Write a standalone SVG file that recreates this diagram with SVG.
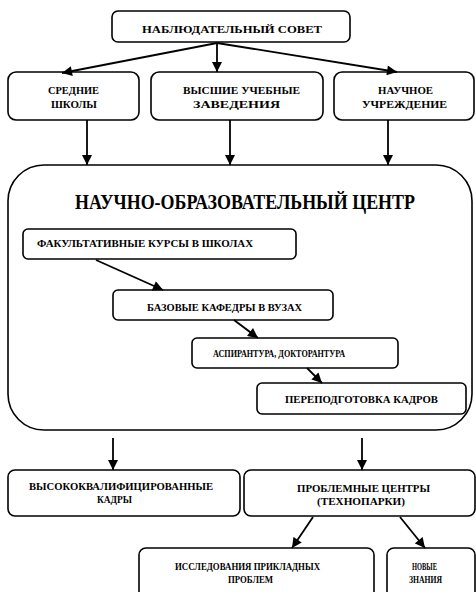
<svg xmlns="http://www.w3.org/2000/svg" width="476" height="592" viewBox="0 0 476 592">
<style>
.b{fill:#fff;stroke:#000;stroke-width:1.6}
.t{font-family:"Liberation Serif","Times New Roman",serif;font-weight:bold;font-size:10px;fill:#000}
.c{stroke:#000;stroke-width:1.8;fill:none;marker-end:url(#ah)}
</style>
<defs>
<marker id="ah" viewBox="0 0 10 10" refX="10" refY="5" markerUnits="userSpaceOnUse" markerWidth="11" markerHeight="10" orient="auto">
<path d="M0,0 L10,5 L0,10 z" fill="#000"/>
</marker>
</defs>
<rect width="476" height="592" fill="#fff"/>
<g id="council">
<rect class="b" x="112" y="11" width="238" height="31" rx="6"/>
<text class="t" x="142" y="33" textLength="180" lengthAdjust="spacingAndGlyphs">НАБЛЮДАТЕЛЬНЫЙ СОВЕТ</text>
</g>
<g id="schools">
<rect class="b" x="8" y="72" width="131" height="48" rx="8"/>
<text class="t" x="48" y="94" textLength="51" lengthAdjust="spacingAndGlyphs">СРЕДНИЕ</text>
<text class="t" x="51" y="108" textLength="46" lengthAdjust="spacingAndGlyphs">ШКОЛЫ</text>
</g>
<g id="universities">
<rect class="b" x="151" y="72" width="172" height="48" rx="8"/>
<text class="t" x="183" y="94" textLength="117" lengthAdjust="spacingAndGlyphs">ВЫСШИЕ УЧЕБНЫЕ</text>
<text class="t" x="193" y="108" textLength="87" lengthAdjust="spacingAndGlyphs">ЗАВЕДЕНИЯ</text>
</g>
<g id="institution">
<rect class="b" x="334" y="72" width="140" height="48" rx="8"/>
<text class="t" x="378" y="94" textLength="55" lengthAdjust="spacingAndGlyphs">НАУЧНОЕ</text>
<text class="t" x="362" y="108" textLength="85" lengthAdjust="spacingAndGlyphs">УЧРЕЖДЕНИЕ</text>
</g>
<g id="center">
<rect class="b" x="8" y="165" width="464" height="265" rx="36"/>
<text class="t" x="75" y="209" style="font-size:21px" textLength="340" lengthAdjust="spacingAndGlyphs">НАУЧНО-ОБРАЗОВАТЕЛЬНЫЙ ЦЕНТР</text>
</g>
<g id="courses">
<rect class="b" x="23" y="229" width="273" height="30" rx="5"/>
<text class="t" x="37" y="247" textLength="216" lengthAdjust="spacingAndGlyphs">ФАКУЛЬТАТИВНЫЕ КУРСЫ В ШКОЛАХ</text>
</g>
<g id="departments">
<rect class="b" x="113" y="290" width="220" height="30" rx="5"/>
<text class="t" x="147" y="311" textLength="155" lengthAdjust="spacingAndGlyphs">БАЗОВЫЕ КАФЕДРЫ В ВУЗАХ</text>
</g>
<g id="postgrad">
<rect class="b" x="192" y="338" width="206" height="30" rx="5"/>
<text class="t" x="213" y="357" textLength="132" lengthAdjust="spacingAndGlyphs">АСПИРАНТУРА, ДОКТОРАНТУРА</text>
</g>
<g id="retraining">
<rect class="b" x="257" y="383" width="209" height="31" rx="5"/>
<text class="t" x="285" y="403" textLength="153" lengthAdjust="spacingAndGlyphs">ПЕРЕПОДГОТОВКА КАДРОВ</text>
</g>
<g id="staff">
<rect class="b" x="8" y="470" width="232" height="46" rx="7"/>
<text class="t" x="29" y="490" textLength="184" lengthAdjust="spacingAndGlyphs">ВЫСОКОКВАЛИФИЦИРОВАННЫЕ</text>
<text class="t" x="97" y="503" textLength="35" lengthAdjust="spacingAndGlyphs">КАДРЫ</text>
</g>
<g id="problem-centers">
<rect class="b" x="244" y="470" width="231" height="46" rx="7"/>
<text class="t" x="297" y="492" textLength="133" lengthAdjust="spacingAndGlyphs">ПРОБЛЕМНЫЕ ЦЕНТРЫ</text>
<text class="t" x="317" y="505" textLength="88" lengthAdjust="spacingAndGlyphs">(ТЕХНОПАРКИ)</text>
</g>
<g id="research">
<rect class="b" x="139" y="548" width="235" height="54" rx="7"/>
<text class="t" x="175" y="570" textLength="145" lengthAdjust="spacingAndGlyphs">ИССЛЕДОВАНИЯ ПРИКЛАДНЫХ</text>
<text class="t" x="228" y="583" textLength="45" lengthAdjust="spacingAndGlyphs">ПРОБЛЕМ</text>
</g>
<g id="knowledge">
<rect class="b" x="387" y="548" width="88" height="54" rx="7"/>
<text class="t" x="412" y="570" textLength="25" lengthAdjust="spacingAndGlyphs">НОВЫЕ</text>
<text class="t" x="409" y="583" textLength="33" lengthAdjust="spacingAndGlyphs">ЗНАНИЯ</text>
</g>
<g id="connectors">
<line class="c" x1="217" y1="43" x2="62" y2="73"/>
<line class="c" x1="217" y1="43" x2="217" y2="72"/>
<line class="c" x1="217" y1="43" x2="397" y2="72"/>
<line class="c" x1="87" y1="120" x2="87" y2="165"/>
<line class="c" x1="230" y1="120" x2="230" y2="165"/>
<line class="c" x1="388" y1="120" x2="388" y2="165"/>
<line class="c" x1="96" y1="260" x2="163" y2="290"/>
<line class="c" x1="234" y1="320" x2="258" y2="338"/>
<line class="c" x1="307" y1="368" x2="322" y2="383"/>
<line class="c" x1="113" y1="438" x2="113" y2="470"/>
<line class="c" x1="362" y1="438" x2="362" y2="470"/>
<line class="c" x1="313" y1="517" x2="292" y2="548"/>
<line class="c" x1="400" y1="517" x2="425" y2="548"/>
</g>
</svg>
